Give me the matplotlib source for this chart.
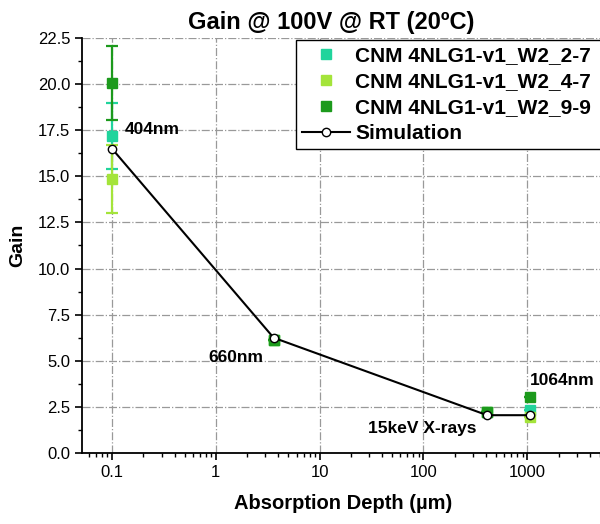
import matplotlib
matplotlib.use("Agg")
import matplotlib.pyplot as plt
from matplotlib.ticker import FixedLocator, MultipleLocator, LogLocator, NullFormatter

plt.rcParams['font.family'] = ['Liberation Sans', 'DejaVu Sans']

# -- data ---------------------------------------------------------------
series_names = ["CNM 4NLG1-v1_W2_2-7", "CNM 4NLG1-v1_W2_4-7", "CNM 4NLG1-v1_W2_9-9"]
series_colors = ["#20d49c", "#a4e43a", "#1c9a1c"]
# absorption depth (um) for 404nm, 660nm, 15keV X-rays, 1064nm
depths = [0.1, 3.6, 410, 1070]
gain_2_7 = [17.2, 6.15, 2.2, 2.35]
err_2_7 = [1.8, 0.0, 0.0, 0.0]
gain_4_7 = [14.85, 6.15, 2.22, 1.95]
err_4_7 = [1.85, 0.0, 0.0, 0.0]
gain_9_9 = [20.05, 6.13, 2.2, 3.05]
err_9_9 = [2.0, 0.0, 0.0, 0.0]
sim_depth = [0.1, 3.6, 410, 1070]
sim_gain = [16.5, 6.25, 2.05, 2.05]

labels = ["404nm", "660nm", "15keV X-rays", "1064nm"]
label_pos = [(0.133, 17.55), (0.84, 5.2), (29.5, 1.35), (1070, 3.95)]

# -- figure -------------------------------------------------------------
fig = plt.figure(figsize=(6.0, 5.24), dpi=100)
ax = fig.add_axes([82 / 600, 71 / 524, 523 / 600, 415 / 524])

gains = [gain_2_7, gain_4_7, gain_9_9]
errs = [err_2_7, err_4_7, err_9_9]
handles = []
for name, col, g, e, z in zip(series_names, series_colors, gains, errs, [3, 4, 5]):
    ax.errorbar(depths, g, yerr=e, fmt='none', ecolor=col, elinewidth=1.6,
                capsize=4, capthick=1.6, zorder=z)
    h = ax.plot(depths, g, 's', color=col, markersize=7, zorder=z,
                label=name)[0]
    handles.append(h)

sim = ax.plot(sim_depth, sim_gain, '-o', color='black', linewidth=1.5,
              markersize=6, markerfacecolor='white', markeredgecolor='black',
              markeredgewidth=1.0, zorder=6, label="Simulation")[0]
handles.append(sim)

for txt, (tx, ty) in zip(labels, label_pos):
    ax.text(tx, ty, txt, fontsize=12.5, fontweight='bold', va='center',
            ha='left', zorder=7)

ax.set_xscale('log')
ax.set_xlim(0.0514, 5600)
ax.set_ylim(0, 22.5)
ax.xaxis.set_major_locator(FixedLocator([0.1, 1, 10, 100, 1000]))
ax.set_xticklabels(["0.1", "1", "10", "100", "1000"])
ax.xaxis.set_minor_locator(LogLocator(base=10, subs=range(2, 10), numticks=20))
ax.xaxis.set_minor_formatter(NullFormatter())
ax.yaxis.set_major_locator(MultipleLocator(2.5))
ax.yaxis.set_minor_locator(MultipleLocator(1.25))
ax.yaxis.set_major_formatter(plt.FormatStrFormatter('%.1f'))

ax.tick_params(which='major', direction='out', length=5, width=1.2,
               labelsize=12)
ax.tick_params(which='minor', direction='out', length=3, width=1.0)
ax.grid(True, which='major', color='#999999', linestyle='-.', linewidth=0.9)
ax.set_axisbelow(True)

for side in ['top', 'right']:
    ax.spines[side].set_visible(False)
for side in ['left', 'bottom']:
    ax.spines[side].set_linewidth(1.3)

fig.text(331 / 600, 1 - 22 / 524, "Gain @ 100V @ RT (20ºC)", fontsize=17,
         fontweight='bold', ha='center', va='center')
ax.set_xlabel("Absorption Depth (µm)", fontsize=14.5, fontweight='bold',
              labelpad=10)
ax.set_ylabel("Gain", fontsize=14, fontweight='bold', labelpad=8)

# legend box runs past the right edge of the picture, as in the original
leg = fig.legend(handles=handles, loc='upper left', mode='expand',
                 bbox_to_anchor=(296 / 600, 1 - 40 / 524, 330 / 600, 0),
                 prop={'size': 15, 'weight': 'bold'}, fancybox=False,
                 framealpha=1, edgecolor='black', borderpad=0.3,
                 labelspacing=0.33, handlelength=2.3, handletextpad=0.25,
                 borderaxespad=0)
leg.get_frame().set_linewidth(1.0)

fig.savefig("out.png", dpi=100)
